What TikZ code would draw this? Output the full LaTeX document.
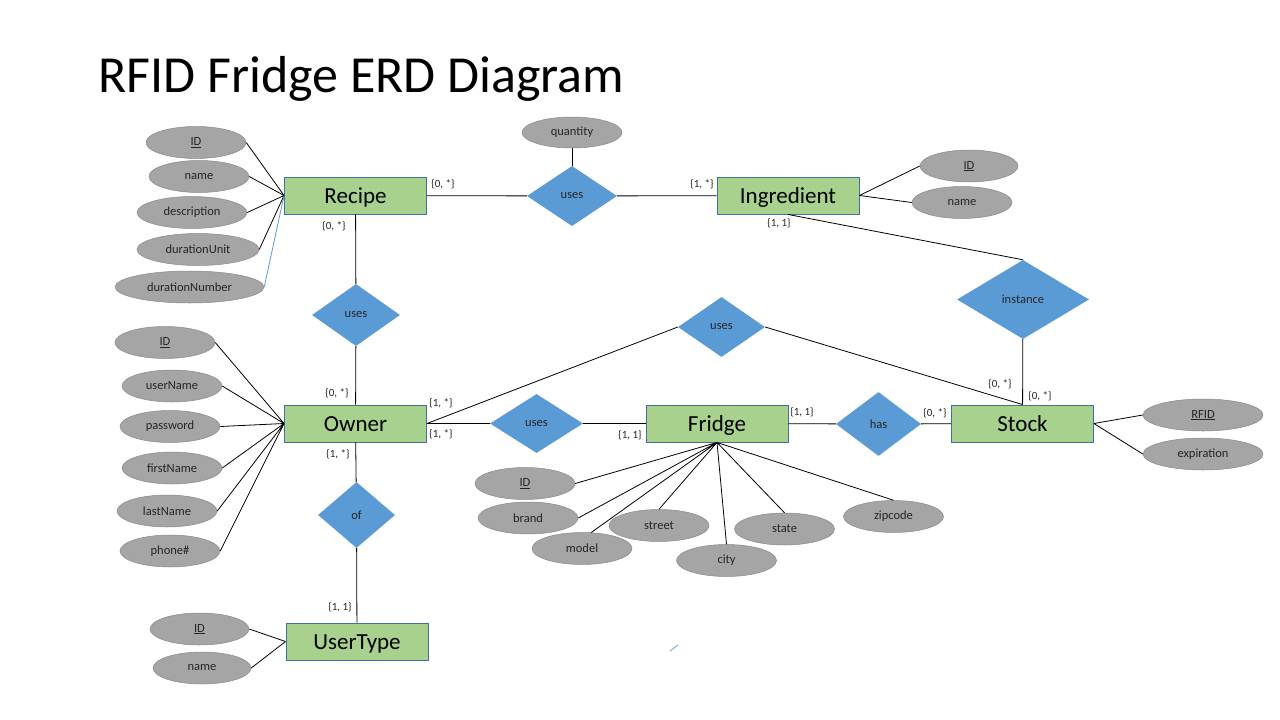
\documentclass[tikz,border=0pt]{standalone}
\usepackage{fontspec}
\setmainfont{Carlito}
\usetikzlibrary{shapes.geometric}
\definecolor{entgreen}{HTML}{A9D18E}
\definecolor{entblue}{HTML}{41719C}
\definecolor{relblue}{HTML}{5B9BD5}
\definecolor{attrgray}{HTML}{A5A5A5}
\definecolor{attrline}{HTML}{8A8A8A}
\definecolor{txtgray}{HTML}{262626}

\begin{document}
\begin{tikzpicture}[
  x=1pt, y=-1pt,
  every node/.style={inner sep=0pt, font=\fontsize{12.5}{14}\selectfont, text=txtgray},
  entity/.style={rectangle, draw=entblue, fill=entgreen, line width=0.9pt, minimum width=142pt, minimum height=37pt, text height=15pt, text depth=0pt, text=black, font=\fontsize{23}{26}\selectfont},
  relation/.style={diamond, fill=relblue},
  attr/.style={ellipse, draw=attrline, fill=attrgray, line width=0.5pt, minimum width=100pt, minimum height=32pt},
  card/.style={font=\fontsize{11}{12}\selectfont},
  link/.style={line width=0.8pt, black}
]
\fill[white] (0,0) rectangle (1280,720);
\useasboundingbox (0,0) rectangle (1280,720);

\node[anchor=base west, text=black, font=\fontsize{52}{56}\selectfont] (title) at (98,92) {RFID Fridge ERD Diagram};

\node[entity] (recipe) at (355.5,195.5) {Recipe};
\node[entity] (ingredient) at (788,195.5) {Ingredient};
\node[entity] (owner) at (355.5,423.5) {Owner};
\node[entity] (fridge) at (717,423.5) {Fridge};
\node[entity] (stock) at (1022.5,423.5) {Stock};
\node[entity] (usertype) at (357,641.5) {UserType};

\node[relation, minimum width=90pt, minimum height=60pt] (usesRI) at (572,196) {uses};
\node[relation, minimum width=88pt, minimum height=62pt] (usesRO) at (356,315) {uses};
\node[relation, minimum width=87pt, minimum height=60pt] (usesOS) at (721.5,327) {uses};
\node[relation, minimum width=132pt, minimum height=79pt] (instance) at (1023,299.5) {instance};
\node[relation, minimum width=93pt, minimum height=59pt] (usesOF) at (536.5,423.5) {uses};
\node[relation, minimum width=85pt, minimum height=64pt] (has) at (878.5,424) {has};
\node[relation, minimum width=77pt, minimum height=66pt] (of) at (356.5,515) {of};

\node[attr] (rID) at (196,142.5) {\underline{ID}};
\node[attr] (rName) at (199,176.5) {name};
\node[attr, minimum width=110pt] (rDesc) at (192,212.5) {description};
\node[attr, minimum width=122pt] (rUnit) at (198,249.5) {durationUnit};
\node[attr, minimum width=149pt] (rNumber) at (189.5,287) {durationNumber};
\node[attr, minimum height=31pt] (quantity) at (572,132.5) {quantity};
\node[attr, minimum width=98pt] (iID) at (969,166) {\underline{ID}};
\node[attr] (iName) at (962,202.5) {name};
\node[attr] (oID) at (165,342.5) {\underline{ID}};
\node[attr] (oUser) at (172,386) {userName};
\node[attr] (oPass) at (170,426.5) {password};
\node[attr] (oFirst) at (172,468) {firstName};
\node[attr] (oLast) at (167,511) {lastName};
\node[attr] (oPhone) at (170,551) {phone\#};
\node[attr] (fID) at (525,483.5) {\underline{ID}};
\node[attr] (fBrand) at (528,518) {brand};
\node[attr] (fModel) at (582,548.5) {model};
\node[attr] (fStreet) at (659,525.5) {street};
\node[attr] (fCity) at (726.5,560.5) {city};
\node[attr] (fState) at (784.5,529) {state};
\node[attr] (fZip) at (893.5,516.5) {zipcode};
\node[attr, minimum width=120pt] (sRFID) at (1203,415) {\underline{RFID}};
\node[attr, minimum width=120pt] (sExp) at (1203,454) {expiration};
\node[attr, minimum width=99pt] (uID) at (199.5,629) {\underline{ID}};
\node[attr, minimum width=98pt] (uName) at (202,668) {name};

\draw[link] (recipe.west) -- (rID.east) (recipe.west) -- (rName.east) (recipe.west) -- (rDesc.east) (recipe.west) -- (rUnit.east);
\draw[line width=0.8pt, relblue] (recipe.west) -- (rNumber.east);
\draw[link] (quantity) -- (usesRI);
\draw[link] (ingredient.east) -- (iID.west) (ingredient.east) -- (iName.west);
\draw[link] (owner.west) -- (oID.east) (owner.west) -- (oUser.east) (owner.west) -- (oPass.east)
  (owner.west) -- (oFirst.east) (owner.west) -- (oLast.east) (owner.west) -- (oPhone.east);
\draw[link] (fridge.south) -- (fID.east) (fridge.south) -- (fBrand.east) (fridge.south) -- (fModel.60) (fridge.south) -- (fStreet.north)
  (fridge.south) -- (fCity.north) (fridge.south) -- (fState.north) (fridge.south) -- (fZip.north);
\draw[link] (stock.east) -- (sRFID.west) (stock.east) -- (sExp.west);
\draw[link] (usertype.west) -- (uID.east) (usertype.west) -- (uName.east);

\draw[link] (recipe) -- (usesRI) -- (ingredient);
\draw[link] (ingredient.south) -- (instance.north);
\draw[link] (instance) -- (stock);
\draw[link] (recipe) -- (usesRO) -- (owner);
\draw[link] (owner.east) -- (usesOS.west);
\draw[link] (usesOS.east) -- (stock.north);
\draw[link] (owner) -- (usesOF) -- (fridge);
\draw[link] (fridge) -- (has) -- (stock);
\draw[link] (owner) -- (of) -- (usertype);

\node[card] (c1) at (443,184) {\{0, *\}};
\node[card] (c2) at (702,184) {\{1, *\}};
\node[card] (c3) at (779,223) {\{1, 1\}};
\node[card] (c4) at (334,226) {\{0, *\}};
\node[card] (c5) at (337,393) {\{0, *\}};
\node[card] (c6) at (441,403) {\{1, *\}};
\node[card] (c7) at (441,434) {\{1, *\}};
\node[card] (c8) at (338,454) {\{1, *\}};
\node[card] (c9) at (630,435) {\{1, 1\}};
\node[card] (c10) at (802,412) {\{1, 1\}};
\node[card] (c11) at (935,413) {\{0, *\}};
\node[card] (c12) at (1000,384) {\{0, *\}};
\node[card] (c13) at (1040,396) {\{0, *\}};
\node[card] (c14) at (340,607) {\{1, 1\}};

\coordinate (s1) at (670,651);
\coordinate (s2) at (678,645);
\draw[line width=0.7pt, relblue] (s1) -- (s2);
\end{tikzpicture}
\end{document}
